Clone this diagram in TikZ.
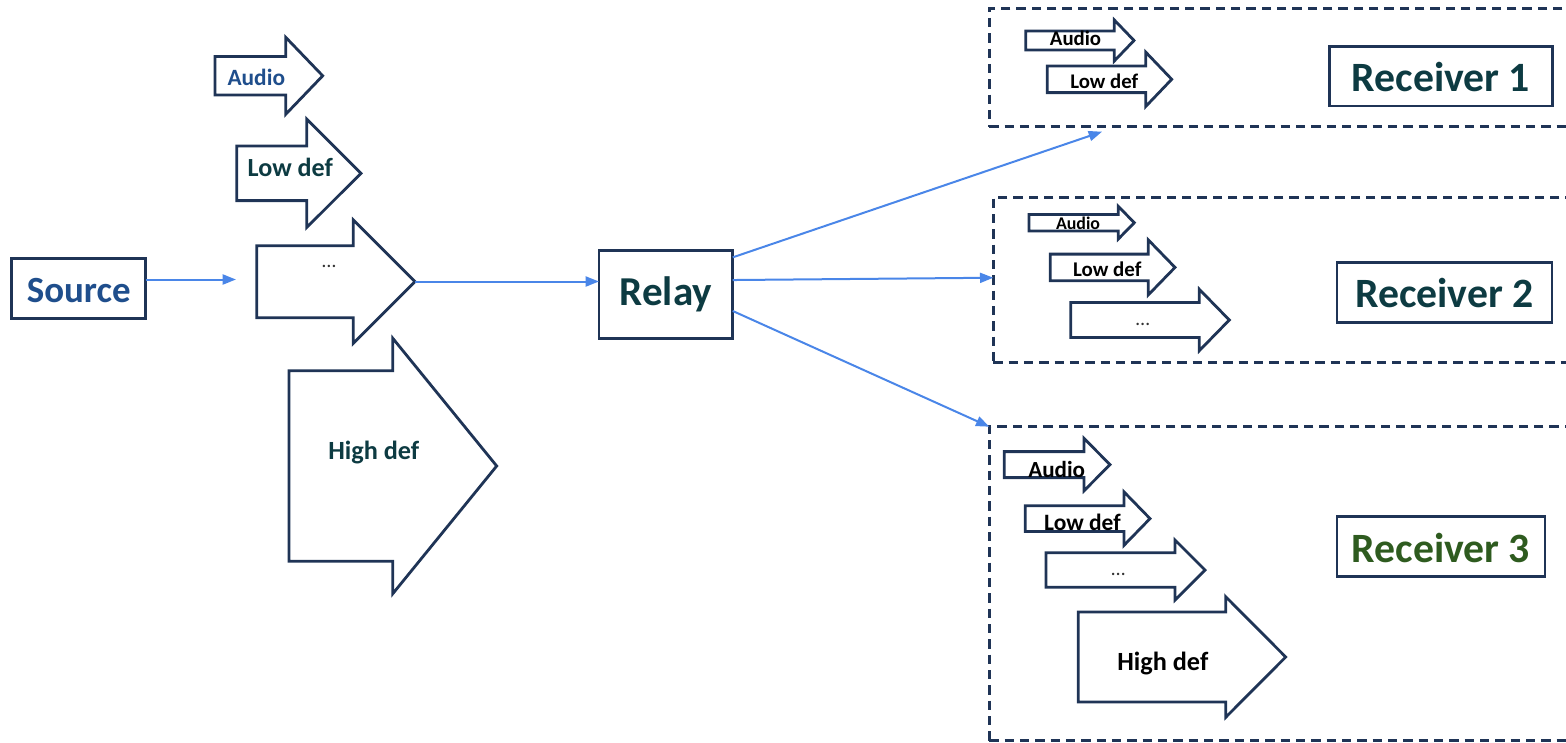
\documentclass[tikz,border=0pt]{standalone}
\usepackage{fontspec}
\setmainfont{Carlito}
\usetikzlibrary{arrows.meta}
\definecolor{navy}{HTML}{1F3456}
\definecolor{srcblue}{HTML}{1F4E8C}
\definecolor{teal}{HTML}{0D3B42}
\definecolor{rgreen}{HTML}{2E5B1F}
\definecolor{linkblue}{HTML}{4A86E8}
\tikzset{
  bx/.style={draw=navy, line width=2pt, inner sep=0pt, outer sep=0pt, text depth=0pt, font=\bfseries},
  frame/.style={draw=navy, line width=1.9pt, dash pattern=on 7pt off 4.5pt, inner sep=0pt, outer sep=0pt},
  barrowsty/.style={draw=navy, line width=2.1pt, fill=white, line join=miter},
  conn/.style={draw=linkblue, line width=1.5pt, -{Triangle[length=10pt,width=7.5pt]}},
  lbl/.style={anchor=base, inner sep=0pt, font=\bfseries},
  dotlbl/.style={anchor=base, inner sep=0pt, text=black!80, font=\fontsize{15}{17}\selectfont}
}
% tail x, centre y, head-base x, tip x, shaft half height, head half height
\newcommand{\barrow}[6]{%
  \draw[barrowsty] ({#1},{#2-#5}) -- ({#3},{#2-#5}) -- ({#3},{#2-#6}) -- ({#4},{#2})
    -- ({#3},{#2+#6}) -- ({#3},{#2+#5}) -- ({#1},{#2+#5}) -- cycle;}
\begin{document}
\begin{tikzpicture}[x=0.75pt,y=-0.75pt]
\useasboundingbox (0,0) rectangle (1566,742);
\clip (0,0) rectangle (1566,742);

% ---------- receiver frames ----------
\node[frame, minimum width=458pt, minimum height=88.8pt] (r1frame) at (1294.65,67.5) {};
\node[frame, minimum width=455pt, minimum height=124pt] (r2frame) at (1296.65,280) {};
\node[frame, minimum width=458pt, minimum height=235.5pt] (r3frame) at (1294.65,583.7) {};

% ---------- left block arrows ----------
\barrow{215}{75.8}{285.7}{322.7}{19.2}{38.5}
\node[lbl, text=srcblue, font=\bfseries\fontsize{17.5}{20}\selectfont] (la) at (256.3,85) {Audio};
\barrow{236.7}{173.3}{306.7}{361}{27.3}{54.2}
\node[lbl, text=teal, font=\bfseries\fontsize{19.6}{22}\selectfont] (ll) at (290.3,176) {Low def};
\barrow{256.7}{281.7}{353.3}{415}{36}{61.7}
\node[dotlbl] (ld) at (329,267) {…};
\barrow{289}{466}{392.7}{496.7}{95.2}{127.8}
\node[lbl, text=teal, font=\bfseries\fontsize{19.7}{22}\selectfont] (lh) at (373.8,459) {High def};

% ---------- main boxes ----------
\node[bx, text=srcblue, font=\bfseries\fontsize{27.7}{30}\selectfont, text height=21.6pt,
      minimum width=100.5pt, minimum height=45pt] (source) at (78.7,288.3) {Source};
\node[bx, text=teal, font=\bfseries\fontsize{30.8}{33}\selectfont, text height=15.5pt,
      minimum width=100.3pt, minimum height=66pt] (relay) at (665.85,294.7) {Relay};
\node[bx, text=teal, font=\bfseries\fontsize{31.3}{34}\selectfont, text height=22pt,
      minimum width=167.6pt, minimum height=44.5pt] (rec1) at (1441,76.35) {Receiver 1};
\node[bx, text=teal, font=\bfseries\fontsize{31.3}{34}\selectfont, text height=22pt,
      minimum width=161.25pt, minimum height=45pt] (rec2) at (1444.5,292.7) {Receiver 2};
\node[bx, text=rgreen, font=\bfseries\fontsize{31.3}{34}\selectfont, text height=23.4pt,
      minimum width=156pt, minimum height=45pt] (rec3) at (1441,546.7) {Receiver 3};

% ---------- receiver 1 arrows ----------
\barrow{1025.7}{40.5}{1114.3}{1134}{9.5}{20.5}
\node[lbl, font=\bfseries\fontsize{15.6}{18}\selectfont] (r1a) at (1075.5,46) {Audio};
\barrow{1047.3}{79.3}{1145.7}{1171.7}{13.3}{27.2}
\node[lbl, font=\bfseries\fontsize{15.6}{18}\selectfont] (r1l) at (1104.2,88.3) {Low def};

% ---------- receiver 2 arrows ----------
\barrow{1029}{222.7}{1118.3}{1134.3}{8.2}{16.3}
\node[lbl, font=\bfseries\fontsize{13.4}{16}\selectfont] (r2a) at (1078,229.3) {Audio};
\barrow{1050.3}{267.4}{1148.3}{1175}{13.3}{27.5}
\node[lbl, font=\bfseries\fontsize{15.7}{18}\selectfont] (r2l) at (1107.2,276) {Low def};
\barrow{1070.7}{320}{1199.3}{1229.3}{17.5}{30.7}
\node[dotlbl] (r2d) at (1142.7,325) {…};

% ---------- receiver 3 arrows ----------
\barrow{1004.3}{464.6}{1084}{1110}{13}{26.2}
\node[lbl, font=\bfseries\fontsize{17.3}{20}\selectfont] (r3a) at (1056.7,477.7) {Audio};
\barrow{1025.3}{518.6}{1124}{1150}{12.8}{26.7}
\node[lbl, font=\bfseries\fontsize{17.6}{20}\selectfont] (r3l) at (1082.5,530) {Low def};
\barrow{1046}{570}{1175}{1205}{17.3}{30}
\node[dotlbl] (r3d) at (1118.3,575) {…};
\barrow{1078.3}{657}{1225.7}{1285.7}{45}{60.3}
\node[lbl, font=\bfseries\fontsize{19.7}{22}\selectfont] (r3h) at (1162.8,670) {High def};

% ---------- connectors ----------
\coordinate (srcend) at (236,279.5);
\coordinate (ltip) at (415,281.5);
\coordinate (r1end) at (1102,131.7);
\draw[conn] (source.east |- srcend) -- (srcend);
\draw[conn] (ltip) -- (relay.west |- ltip);
\draw[conn] ([yshift=-5pt]relay.north east) -- (r1end);
\draw[conn] ([yshift=11pt]relay.east) -- ([yshift=1.7pt]r2frame.west);
\draw[conn] ([yshift=-12.2pt]relay.east) -- (r3frame.north west);
\end{tikzpicture}
\end{document}
